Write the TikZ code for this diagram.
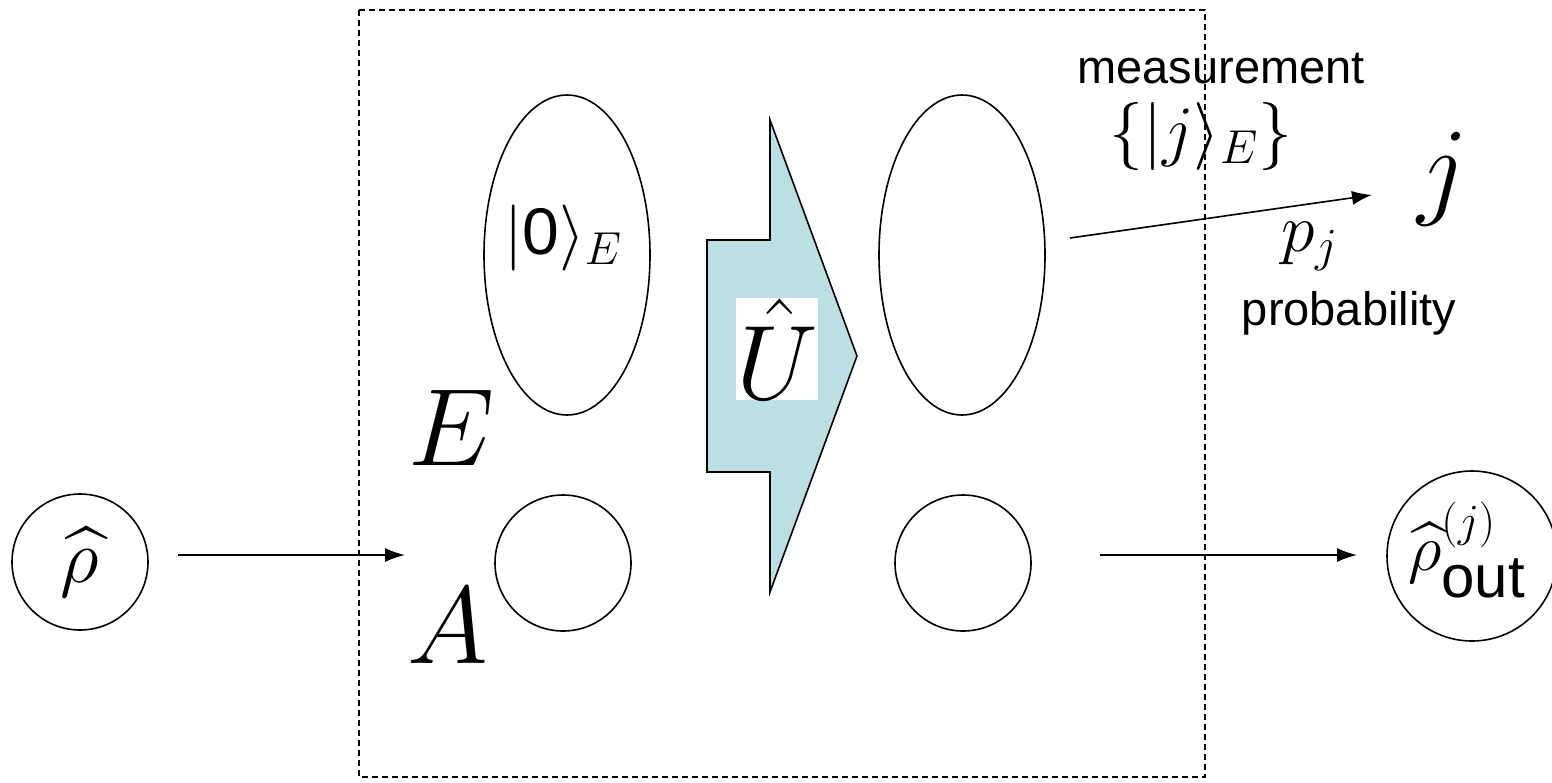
\RequirePackage{fix-cm}
\documentclass[tikz,border=0pt]{standalone}
\usepackage{amsmath, amssymb}
\usepackage{fontspec}
\setsansfont{Liberation Sans}
\usepackage{tikz}
\usetikzlibrary{
  arrows.meta,
  shapes.geometric,
  positioning
}
\definecolor{gatecolor}{RGB}{186,224,227}
\tikzset{>={Latex[length=10pt,width=7pt]}}
\tikzset{
  state/.style={draw, line width=0.8pt, ellipse, inner sep=0pt},
  ket/.style={draw, line width=0.8pt, circle, inner sep=0pt},
  flow/.style={->, line width=0.8pt},
  word/.style={font=\fontsize{23.5}{28}\selectfont\sffamily, anchor=base}
}

\begin{document}
\begin{tikzpicture}[x=0.5pt, y=-0.5pt]
    \useasboundingbox (0, 0) rectangle (1552, 782);
    % dashed box round the apparatus
    \draw[line width=0.6pt, dash pattern=on 3pt off 2pt] (359, 10) rectangle (1205, 777);
    % input and output states
    \node[ket, minimum size=68pt] (rhoin) at (80, 562) {\fontsize{38}{46}\selectfont$\widehat{\rho}$};
    \node[ket, minimum size=85pt] (rhoout) at (1472, 556) {};
    \node (rhooutlab) at (1467, 550)
      {\fontsize{33}{40}\selectfont$\widehat{\rho}_{\text{\fontsize{30}{36}\selectfont\sffamily out}}%
        ^{\text{\fontsize{23}{28}\selectfont$(j)$}}$};
    % systems before the interaction
    \node[state, minimum width=83pt, minimum height=160pt] (envin) at (567, 255) {};
    \node[ket, minimum size=68pt] (sysin) at (563, 563) {};
    \node (ketzero) at (563, 238) {\fontsize{33}{40}\selectfont$\lvert\textsf{0}\rangle_E$};
    \node[anchor=base] (labE) at (452, 465) {\fontsize{55}{66}\selectfont$E$};
    \node[anchor=base] (labA) at (448, 663) {\fontsize{55}{66}\selectfont$A$};
    % systems after the interaction
    \node[state, minimum width=83pt, minimum height=160pt] (envout) at (962, 255) {};
    \node[ket, minimum size=68pt] (sysout) at (963, 563) {};
    % the unitary
    \draw[line width=0.8pt, fill=gatecolor] (707, 240) -- (770, 240) -- (770, 120) -- (857, 356)
      -- (770, 592) -- (770, 472) -- (707, 472) -- cycle;
    \node[fill=white, inner sep=0pt, minimum width=40.5pt, minimum height=51pt] (gate) at (777, 349)
      {\fontsize{53}{64}\selectfont$\hat{U}$};
    % measurement of E
    \node[word] (meas) at (1221, 83) {measurement};
    \node (basis) at (1201, 136) {\fontsize{34}{40}\selectfont$\{\lvert j\rangle_E\}$};
    \node[anchor=base] (result) at (1443, 204) {\fontsize{55}{66}\selectfont$j$};
    \node[anchor=base] (prob) at (1310, 251) {\fontsize{34}{40}\selectfont$p_j$};
    \node[word] (probtxt) at (1349, 325) {probability};
    \coordinate (instart) at (178, 555);
    \coordinate (inend) at (405, 555);
    \coordinate (outstart) at (1100, 555);
    \coordinate (outend) at (1357, 555);
    \coordinate (measstart) at (1070, 238);
    \coordinate (measend) at (1372, 195);
    \draw[flow] (instart) -- (inend);
    \draw[flow] (outstart) -- (outend);
    \draw[flow] (measstart) -- (measend);
  \end{tikzpicture}
\end{document}
